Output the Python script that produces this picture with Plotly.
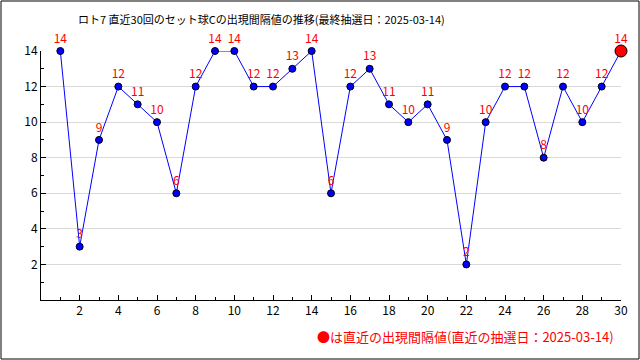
import plotly.graph_objects as go

draws = list(range(1, 31))
intervals = [14, 3, 9, 12, 11, 10, 6, 12, 14, 14, 12, 12, 13, 14, 6,
             12, 13, 11, 10, 11, 9, 2, 10, 12, 12, 8, 12, 10, 12, 14]
title_text = "ロト7 直近30回のセット球Cの出現間隔値の推移(最終抽選日：2025-03-14)"
footer_text = "●は直近の出現間隔値(直近の抽選日：2025-03-14)"
font_family = "Noto Sans CJK JP"

fig = go.Figure()
fig.add_trace(go.Scatter(
    x=draws, y=intervals, mode="lines+markers+text",
    line=dict(color="#0000ff", width=1),
    marker=dict(color="#0000ff", size=7, line=dict(color="black", width=1)),
    text=[str(v) for v in intervals], textposition="top center",
    textfont=dict(color="#ff0000", size=12, family=font_family),
    cliponaxis=False, showlegend=False, hoverinfo="skip",
))
fig.add_trace(go.Scatter(
    x=[draws[-1]], y=[intervals[-1]], mode="markers",
    marker=dict(color="#ff0000", size=12, line=dict(color="black", width=1)),
    cliponaxis=False, showlegend=False, hoverinfo="skip",
))

fig.update_layout(
    width=640, height=360,
    margin=dict(l=41, r=19, t=51, b=60),
    paper_bgcolor="white", plot_bgcolor="white",
    font=dict(family=font_family, size=12, color="black"),
    title=dict(text=title_text, x=78/640, xanchor="left", y=1 - 20/360, yanchor="middle",
               font=dict(size=11, color="black", family=font_family)),
    xaxis=dict(range=[0, 30], tickmode="array", tickvals=list(range(2, 31, 2)),
               ticks="inside", ticklen=5, tickcolor="black",
               minor=dict(tickvals=list(range(1, 31, 2)), ticks="inside", ticklen=3, tickcolor="black"),
               showgrid=False, zeroline=False, showline=True, linecolor="black", linewidth=1,
               tickfont=dict(size=12, family=font_family)),
    yaxis=dict(range=[0, 14], tickmode="array", tickvals=list(range(2, 15, 2)),
               ticks="inside", ticklen=5, tickcolor="black",
               minor=dict(tickvals=list(range(1, 15, 2)), ticks="inside", ticklen=3, tickcolor="black"),
               showgrid=True, gridcolor="#d9d9d9", gridwidth=1,
               zeroline=False, showline=True, linecolor="black", linewidth=1,
               tickfont=dict(size=12, family=font_family)),
    shapes=[dict(type="rect", xref="paper", yref="paper", x0=-40/580, x1=1 + 18/580,
                 y0=-59/249, y1=1 + 50/249, line=dict(color="black", width=1))],
    annotations=[dict(text=footer_text, xref="paper", yref="paper", x=(315 - 41) / 580, y=-36/249,
                      xanchor="left", yanchor="middle", showarrow=False,
                      font=dict(color="#ff0000", size=13, family=font_family))],
)

fig.write_html("out.html", config={"displayModeBar": False})
with open("out.html", encoding="utf-8") as f:
    html = f.read()
html = html.replace("<body>", '<body style="margin:0;padding:0;">', 1)
with open("out.html", "w", encoding="utf-8") as f:
    f.write(html)
